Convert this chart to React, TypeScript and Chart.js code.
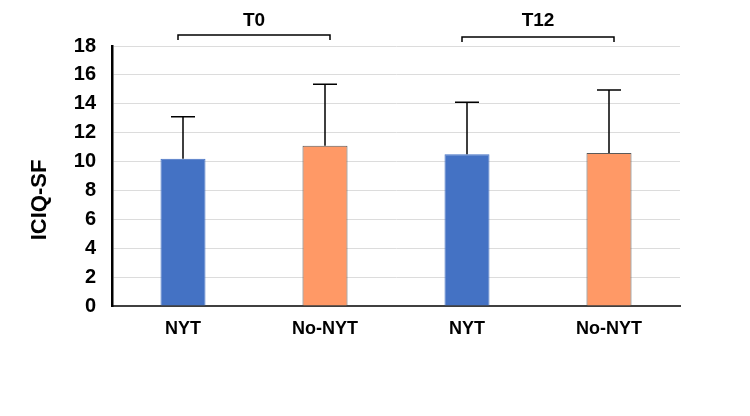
import React, { useEffect, useRef } from "react";
import { Chart, registerables } from "chart.js";

Chart.register(...registerables);

const categories = ["NYT", "No-NYT", "NYT", "No-NYT"];
const means = [10.2, 11.1, 10.5, 10.6];
const sds = [2.9, 4.25, 3.6, 4.35];
const barColors = ["#4472C4", "#FF9966", "#4472C4", "#FF9966"];
const barBorders = ["#4472C4", "#5a5a5a", "#4472C4", "#5a5a5a"];
const groupLabels = ["T0", "T12"];
const groupStarts = [0, 2];
const groupEnds = [1, 3];
const yTicksMax = 18;
const yStep = 2;
const yTitle = "ICIQ-SF";

const FONT = "'Liberation Sans', Arial, sans-serif";

const errorBarPlugin = {
  id: "errorBars",
  afterDatasetsDraw(chart: any) {
    const meta = chart.getDatasetMeta(0);
    const y = chart.scales.y;
    const ctx = chart.ctx;
    ctx.save();
    ctx.strokeStyle = "#000";
    ctx.lineWidth = 1.5;
    meta.data.forEach((bar: any, i: number) => {
      const x = bar.x;
      const y0 = y.getPixelForValue(means[i]);
      const y1 = y.getPixelForValue(means[i] + sds[i]);
      ctx.beginPath();
      ctx.moveTo(x, y0);
      ctx.lineTo(x, y1);
      ctx.moveTo(x - 12, y1);
      ctx.lineTo(x + 12, y1);
      ctx.stroke();
    });
    ctx.restore();
  },
};

const annotationsPlugin = {
  id: "annotations",
  afterDraw(chart: any) {
    const ctx = chart.ctx;
    const xs = chart.scales.x;
    const area = chart.chartArea;
    ctx.save();
    ctx.strokeStyle = "#000";
    ctx.lineWidth = 1.5;
    ctx.fillStyle = "#000";
    ctx.font = `bold 19px ${FONT}`;
    ctx.textAlign = "center";
    ctx.textBaseline = "middle";
    groupLabels.forEach((label, g) => {
      const x0 = xs.getPixelForValue(groupStarts[g]) - 5;
      const x1 = xs.getPixelForValue(groupEnds[g]) + 5;
      const by = area.top - 11 + g * 2;
      ctx.beginPath();
      ctx.moveTo(x0, by + 5);
      ctx.lineTo(x0, by);
      ctx.lineTo(x1, by);
      ctx.lineTo(x1, by + 5);
      ctx.stroke();
      ctx.fillText(label, (x0 + x1) / 2, area.top - 25);
    });
    ctx.font = `bold 22px ${FONT}`;
    ctx.translate(40, (area.top + area.bottom) / 2 + 24);
    ctx.rotate(-Math.PI / 2);
    ctx.fillText(yTitle, 0, 0);
    ctx.restore();
  },
};

export default function App() {
  const ref = useRef<HTMLCanvasElement | null>(null);
  useEffect(() => {
    if (!ref.current) return;
    const chart = new Chart(ref.current, {
      type: "bar",
      data: {
        labels: categories,
        datasets: [
          {
            data: means,
            backgroundColor: barColors,
            borderColor: barBorders,
            borderWidth: 1,
            categoryPercentage: 1,
            barPercentage: 0.317,
          },
        ],
      },
      options: {
        animation: false,
        responsive: false,
        layout: { padding: { top: 46, right: 70, bottom: 0, left: 0 } },
        plugins: {
          legend: { display: false },
          tooltip: { enabled: false },
        },
        scales: {
          x: {
            grid: { display: false, drawTicks: false },
            border: { display: true, color: "#404040", width: 2 },
            ticks: {
              color: "#000",
              padding: 12,
              font: { family: FONT, size: 18, weight: "bold" },
            },
            afterFit(scale: any) {
              scale.height = 110;
            },
          },
          y: {
            min: 0,
            max: yTicksMax,
            ticks: {
              stepSize: yStep,
              color: "#000",
              padding: 16,
              font: { family: FONT, size: 20, weight: "bold" },
            },
            grid: { color: "#dcdcdc", lineWidth: 1, drawTicks: false },
            border: { display: true, color: "#000", width: 2.5 },
            afterFit(scale: any) {
              scale.width = 112;
            },
          },
        },
      },
      plugins: [errorBarPlugin, annotationsPlugin],
    });
    return () => chart.destroy();
  }, []);
  return (
    <div style={{ position: "absolute", left: 0, top: 0, width: 750, height: 416, background: "#fff" }}>
      <canvas ref={ref} width={750} height={416} style={{ width: 750, height: 416, display: "block" }} />
    </div>
  );
}
